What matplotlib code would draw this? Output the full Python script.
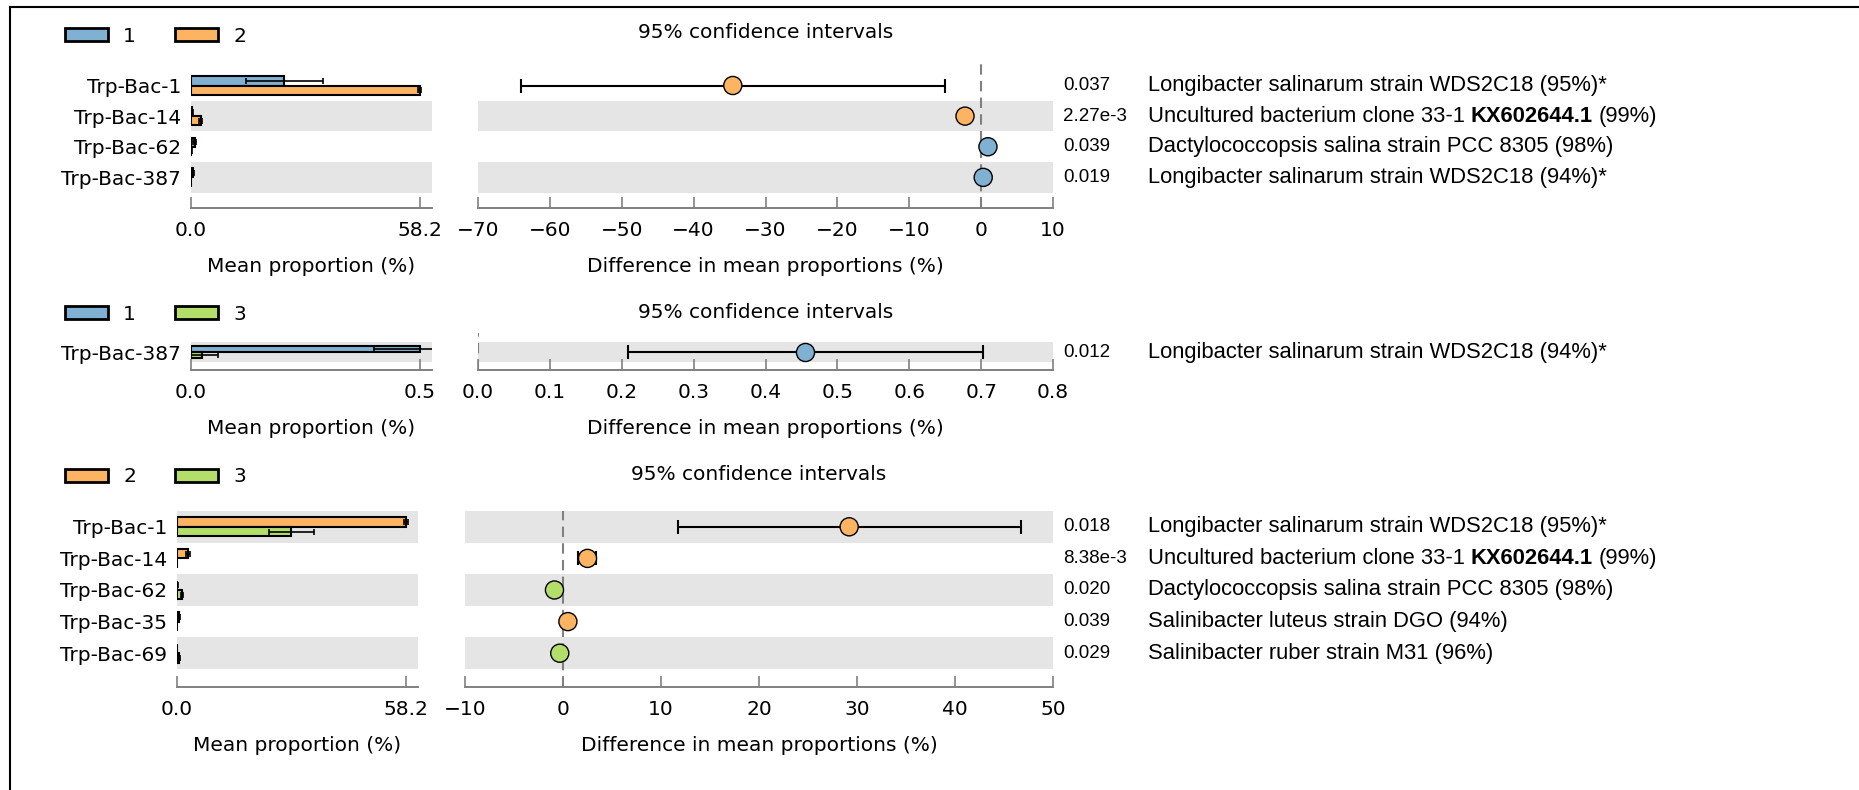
import numpy as np
import matplotlib
matplotlib.use('Agg')
import matplotlib.pyplot as plt
import matplotlib.transforms as mtransforms
from matplotlib import font_manager
from matplotlib.patches import Patch
from matplotlib.lines import Line2D

W, H = 1859, 790
plt.rcParams['font.family'] = ['DejaVu Sans']
plt.rcParams['font.size'] = 14.5

# the names are in a narrow face in the original; fall back to a smaller regular one
installed = {f.name for f in font_manager.fontManager.ttflist}
if 'Liberation Sans Narrow' in installed:
    NAME_FONT, NAME_SIZE, PV_SIZE = ['Liberation Sans Narrow', 'DejaVu Sans'], 19, 14
else:
    NAME_FONT, NAME_SIZE, PV_SIZE = ['Liberation Sans', 'DejaVu Sans'], 15.8, 13.5

group_colors = {'1': '#80B1D3', '2': '#FDB462', '3': '#B3DE69'}

# panel 1 : group 1 vs group 2
p1_groups = ['1', '2']
p1_features = ['Trp-Bac-1', 'Trp-Bac-14', 'Trp-Bac-62', 'Trp-Bac-387']
p1_mean_a = [23.7, 0.3, 0.9, 0.5]
p1_sd_a = [9.8, 0.3, 0.3, 0.2]
p1_mean_b = [58.2, 2.5, 0.1, 0.02]
p1_sd_b = [0.4, 0.4, 0.1, 0.02]
p1_diff = [-34.55, -2.24, 0.95, 0.29]
p1_ci_low = [-63.96, -2.7, 0.6, 0.05]
p1_ci_high = [-5.03, -1.8, 1.3, 0.55]
p1_pvals = ['0.037', '2.27e-3', '0.039', '0.019']
p1_names = ['Longibacter salinarum strain WDS2C18 (95%)*',
            'Uncultured bacterium clone 33-1 **KX602644.1** (99%)',
            'Dactylococcopsis salina strain PCC 8305 (98%)',
            'Longibacter salinarum strain WDS2C18 (94%)*']

# panel 2 : group 1 vs group 3
p2_groups = ['1', '3']
p2_features = ['Trp-Bac-387']
p2_mean_a = [0.5]
p2_sd_a = [0.1]
p2_mean_b = [0.025]
p2_sd_b = [0.035]
p2_diff = [0.455]
p2_ci_low = [0.2085]
p2_ci_high = [0.703]
p2_pvals = ['0.012']
p2_names = ['Longibacter salinarum strain WDS2C18 (94%)*']

# panel 3 : group 2 vs group 3
p3_groups = ['2', '3']
p3_features = ['Trp-Bac-1', 'Trp-Bac-14', 'Trp-Bac-62', 'Trp-Bac-35', 'Trp-Bac-69']
p3_mean_a = [58.2, 2.8, 0.1, 0.6, 0.05]
p3_sd_a = [0.5, 0.4, 0.1, 0.2, 0.05]
p3_mean_b = [29.1, 0.05, 1.2, 0.05, 0.5]
p3_sd_b = [5.8, 0.05, 0.3, 0.05, 0.2]
p3_diff = [29.2, 2.5, -0.87, 0.5, -0.33]
p3_ci_low = [11.7, 1.5, -1.4, 0.2, -0.6]
p3_ci_high = [46.7, 3.4, -0.4, 0.8, -0.05]
p3_pvals = ['0.018', '8.38e-3', '0.020', '0.039', '0.029']
p3_names = ['Longibacter salinarum strain WDS2C18 (95%)*',
            'Uncultured bacterium clone 33-1 **KX602644.1** (99%)',
            'Dactylococcopsis salina strain PCC 8305 (98%)',
            'Salinibacter luteus strain DGO (94%)',
            'Salinibacter ruber strain M31 (96%)']

fig = plt.figure(figsize=(W / 100, H / 100), dpi=100)


def px_rect(x0, x1, ytop, ybot):
    return [x0 / W, 1 - ybot / H, (x1 - x0) / W, (ybot - ytop) / H]


def put_name(ax, y, name, x_px):
    # plain / bold pieces, chained one after the other
    trans = mtransforms.blended_transform_factory(fig.transFigure, ax.transData)
    prev = None
    for k, part in enumerate(name.split('**')):
        part = part.strip()
        if not part:
            continue
        weight = 'bold' if k % 2 == 1 else 'normal'
        if prev is None:
            prev = ax.text(x_px / W, y, part, transform=trans, ha='left', va='center',
                           fontsize=NAME_SIZE, family=NAME_FONT, weight=weight)
        else:
            prev = ax.annotate(part, xy=(1, 0), xycoords=prev, xytext=(NAME_SIZE * 0.26, 0),
                               textcoords='offset points', ha='left', va='bottom',
                               fontsize=NAME_SIZE, family=NAME_FONT, weight=weight)


def draw_panel(groups, features, mean_a, sd_a, mean_b, sd_b, diff, ci_low, ci_high,
               pvals, names, bar_box, diff_box, ylim, diff_lim, diff_step, legend_y, title_y):
    n = len(features)
    rows = np.arange(n)
    ca, cb = group_colors[groups[0]], group_colors[groups[1]]
    ax_bar = fig.add_axes(px_rect(*bar_box))
    ax_diff = fig.add_axes(px_rect(*diff_box))
    for ax in (ax_bar, ax_diff):
        for i in rows:
            if (n - 1 - i) % 2 == 0:
                ax.axhspan(i - 0.5, i + 0.5, color='#e5e5e5', lw=0, zorder=0)
        ax.set_ylim(*ylim)
        for s in ['top', 'right', 'left']:
            ax.spines[s].set_visible(False)
        ax.spines['bottom'].set_color('#808080')
        ax.spines['bottom'].set_linewidth(1.4)
        ax.tick_params(axis='x', direction='in', length=8, width=1.2, color='#808080',
                       pad=9.5, labelsize=14.5)

    # mean proportions
    err = dict(ecolor='black', elinewidth=1.2, capsize=2, capthick=1.2)
    ax_bar.barh(rows - 0.15, mean_a, height=0.3, color=ca, edgecolor='black', lw=1.5,
                xerr=sd_a, error_kw=err, zorder=2)
    ax_bar.barh(rows + 0.15, mean_b, height=0.3, color=cb, edgecolor='black', lw=1.5,
                xerr=sd_b, error_kw=err, zorder=2)
    top = max(max(mean_a), max(mean_b))
    ax_bar.set_xlim(0, top * 1.053)
    ax_bar.set_xticks([0, top])
    ax_bar.set_xticklabels(['%.1f' % v for v in [0, top]])
    ax_bar.set_yticks(rows)
    ax_bar.set_yticklabels(features)
    ax_bar.tick_params(axis='y', length=0, pad=7, labelsize=14.5)
    ax_bar.set_xlabel('Mean proportion (%)', labelpad=12, fontsize=14.5)

    # difference + CI
    diff = np.array(diff)
    ax_diff.axvline(0, color='#808080', ls=(0, (5, 3)), lw=1.5, zorder=1)
    ax_diff.errorbar(diff, rows, xerr=[diff - np.array(ci_low), np.array(ci_high) - diff],
                     fmt='none', ecolor='black', elinewidth=1.5, capsize=5, capthick=1.5, zorder=2)
    cols = [ca if d > 0 else cb for d in diff]
    ax_diff.scatter(diff, rows, s=170, c=cols, edgecolors='black', linewidths=1, zorder=3)
    ax_diff.set_xlim(*diff_lim)
    ax_diff.set_xticks(np.arange(diff_lim[0], diff_lim[1] + diff_step / 2, diff_step))
    ax_diff.set_yticks([])
    ax_diff.set_xlabel('Difference in mean proportions (%)', labelpad=12, fontsize=14.5)
    fig.text((diff_box[0] + diff_box[1]) / 2 / W, 1 - title_y / H, '95% confidence intervals',
             ha='center', va='center', fontsize=14.5)

    # p-values and species names
    trans = mtransforms.blended_transform_factory(fig.transFigure, ax_diff.transData)
    for i in rows:
        ax_diff.text(1063 / W, i, pvals[i], transform=trans, ha='left', va='center',
                     fontsize=PV_SIZE, family=NAME_FONT)
        put_name(ax_diff, i, names[i], 1148)

    handles = [Patch(facecolor=ca, edgecolor='black', lw=2, label=groups[0]),
               Patch(facecolor=cb, edgecolor='black', lw=2, label=groups[1])]
    fig.legend(handles=handles, loc='center left', bbox_to_anchor=(65 / W, 1 - legend_y / H),
               ncol=2, frameon=False, borderpad=0, borderaxespad=0, handlelength=2.14,
               handleheight=0.65, handletextpad=0.75, columnspacing=1.95, fontsize=14.5)


draw_panel(p1_groups, p1_features, p1_mean_a, p1_sd_a, p1_mean_b, p1_sd_b, p1_diff,
           p1_ci_low, p1_ci_high, p1_pvals, p1_names,
           (191, 432, 61, 208), (478, 1053, 61, 208), (4.0, -0.8), (-70, 10), 10, 36, 33)
draw_panel(p2_groups, p2_features, p2_mean_a, p2_sd_a, p2_mean_b, p2_sd_b, p2_diff,
           p2_ci_low, p2_ci_high, p2_pvals, p2_names,
           (191, 432, 333, 370), (478, 1053, 333, 370), (0.9, -0.95), (0.0, 0.8), 0.1, 314, 313)
draw_panel(p3_groups, p3_features, p3_mean_a, p3_sd_a, p3_mean_b, p3_sd_b, p3_diff,
           p3_ci_low, p3_ci_high, p3_pvals, p3_names,
           (177, 418, 511, 687), (465, 1053, 511, 687), (5.07, -0.5), (-10, 50), 10, 477, 475)

# frame lines of the original screenshot
fig.add_artist(Line2D([10 / W, 1], [1 - 7 / H, 1 - 7 / H], transform=fig.transFigure,
                      color='black', lw=1.5))
fig.add_artist(Line2D([10 / W, 10 / W], [0, 1 - 7 / H], transform=fig.transFigure,
                      color='black', lw=1.5))

fig.savefig('out.png', dpi=100)
